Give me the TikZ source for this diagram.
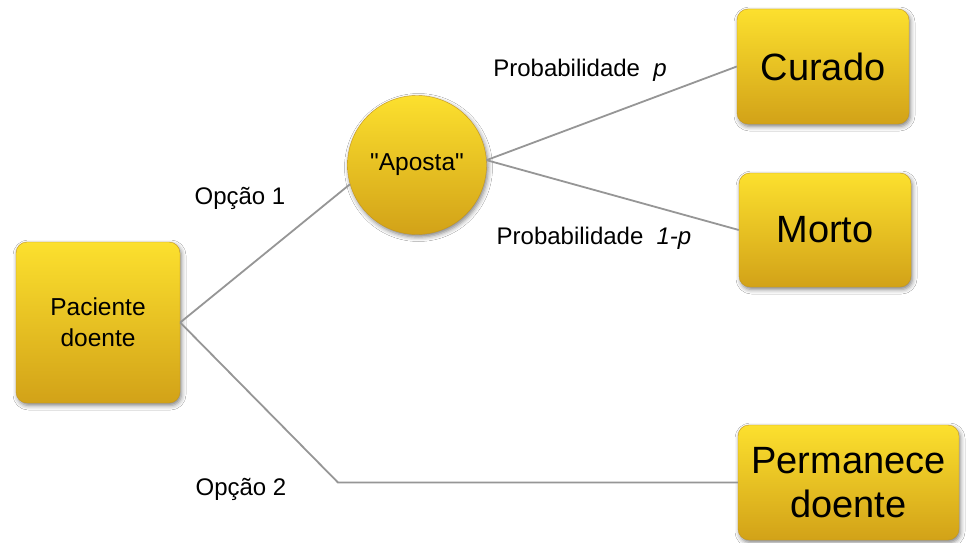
\documentclass[tikz,border=0pt]{standalone}
\usepackage{fontspec}
\setmainfont{Liberation Sans}
\usetikzlibrary{shadows.blur}
\newcommand\straightquote{\XeTeXglyph\XeTeXcharglyph"22\relax}
\definecolor{goldtop}{RGB}{252,224,46}
\definecolor{goldbot}{RGB}{210,162,24}
\definecolor{goldedge}{RGB}{196,150,30}
\definecolor{linkgray}{RGB}{150,150,150}
\tikzset{
  goldbox/.style={rectangle, rounded corners=11pt, top color=goldtop, bottom color=goldbot,
    draw=goldedge, line width=0.4pt, align=center, inner sep=0pt,
    blur shadow={shadow xshift=1.5pt, shadow yshift=-2.5pt, shadow blur radius=4.5pt, shadow opacity=50}},
  goldcircle/.style={circle, top color=goldtop, bottom color=goldbot,
    draw=goldedge, line width=0.4pt, align=center, inner sep=0pt, minimum size=139pt,
    blur shadow={shadow xshift=1.5pt, shadow yshift=-2.5pt, shadow blur radius=4.5pt, shadow opacity=50}},
  link/.style={draw=linkgray, line width=1.8pt},
  lbl/.style={font=\fontsize{24pt}{28pt}\selectfont, inner sep=0pt},
  bigtxt/.style={font=\fontsize{38pt}{44pt}\selectfont},
  midtxt/.style={font=\fontsize{24.5pt}{31pt}\selectfont}
}
\begin{document}
\begin{tikzpicture}[x=1pt,y=-1pt]
\useasboundingbox[fill=white] (0,0) rectangle (969,543);
\node[goldbox, midtxt, minimum width=164pt, minimum height=161pt] (pac) at (98,322.5) {Paciente\\doente};
\node[goldcircle, midtxt] (ap) at (417,165) {\straightquote Aposta\straightquote};
\node[goldbox, bigtxt, minimum width=172pt, minimum height=115pt] (cur) at (823,66.5) {Curado};
\node[goldbox, bigtxt, minimum width=172pt, minimum height=114pt] (mor) at (825,230) {Morto};
\node[goldbox, bigtxt, minimum width=221pt, minimum height=115pt] (per) at (848.5,482.5) {Permanece\\doente};
\coordinate (corner) at (338,482.5);
\draw[link] (pac.east) -- (ap.196);
\draw[link] (pac.east) -- (corner) -- (per.west);
\draw[link] (ap.4) -- (cur.west);
\draw[link] (ap.4) -- (mor.west);
\node[lbl] (o1) at (240,198) {Opção 1};
\node[lbl] (o2) at (241,489) {Opção 2};
\node[lbl] (pp) at (580,70) {Probabilidade\hspace{0.55em}\textit{p}};
\node[lbl] (pq) at (594,238) {Probabilidade\hspace{0.55em}\textit{1-p}};
\end{tikzpicture}
\end{document}
